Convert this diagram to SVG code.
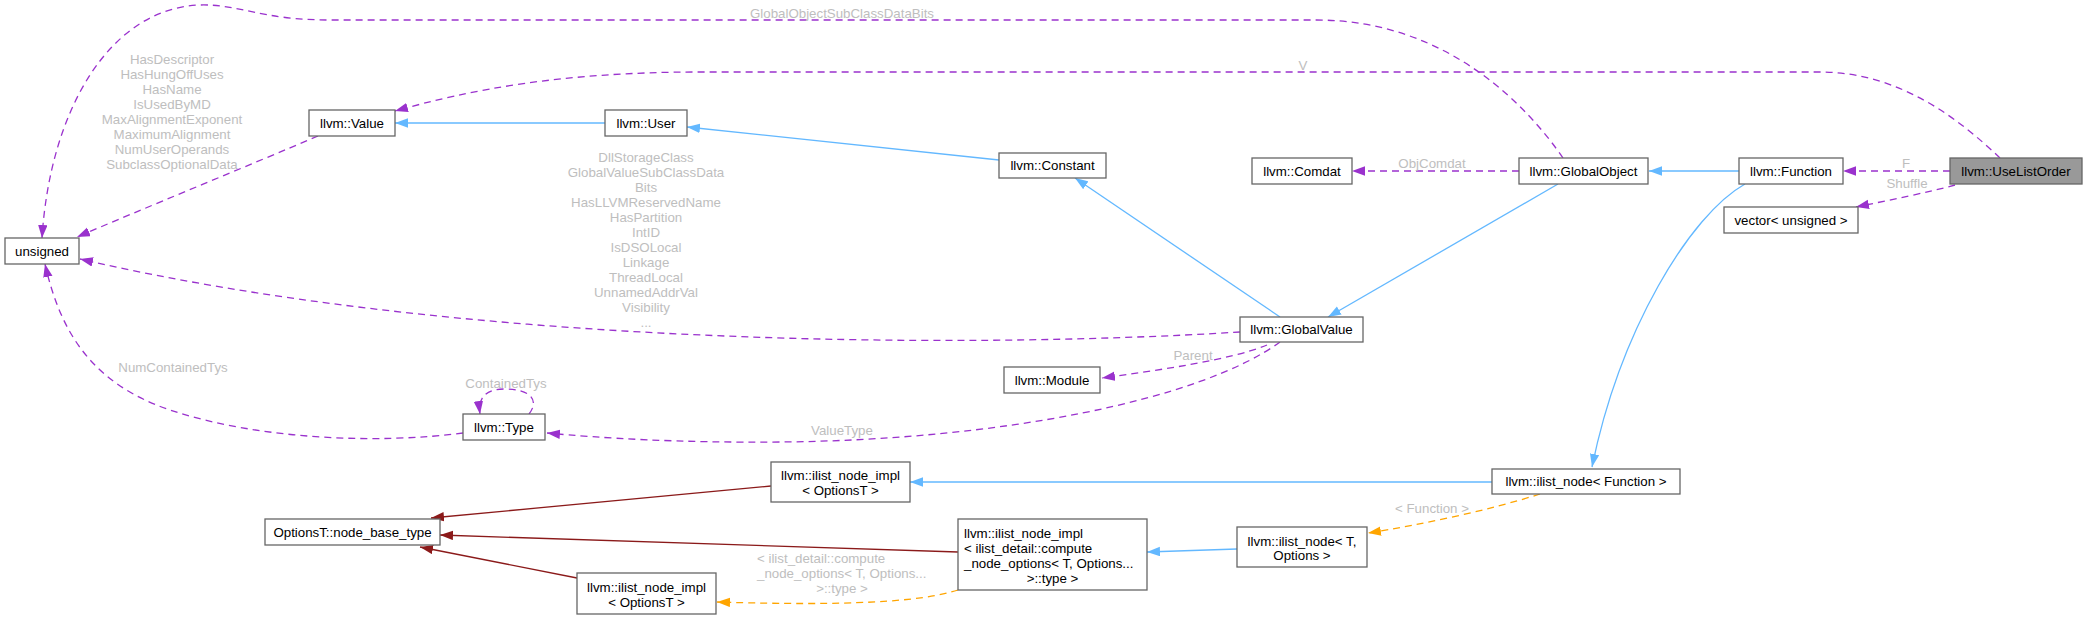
<svg xmlns="http://www.w3.org/2000/svg" width="2087" height="619" viewBox="0 0 2087 619">
<style>
text{font-family:"Liberation Sans",Arial,Helvetica,sans-serif;font-size:13.3px}
.n rect{fill:#fff;stroke:#666;stroke-width:1.3}
.n text{fill:#000;text-anchor:middle}
.n text.lt{text-anchor:start}
.l{fill:#bebebe;text-anchor:middle}
.l.lt{text-anchor:start}
.e{fill:none;stroke-width:1.3}
.p{stroke:#9a32cd;stroke-dasharray:7,5;marker-end:url(#mp)}
.b{stroke:#63b8ff;marker-end:url(#mb)}
.r{stroke:#8b1a1a;marker-end:url(#mr)}
.o{stroke:#ffa500;stroke-dasharray:7,5;marker-end:url(#mo)}
</style>
<defs>
<marker id="mp" markerUnits="userSpaceOnUse" markerWidth="14" markerHeight="10" refX="13" refY="4.7" orient="auto"><path d="M0,0L13,4.7L0,9.4z" fill="#9a32cd"/></marker>
<marker id="mb" markerUnits="userSpaceOnUse" markerWidth="14" markerHeight="10" refX="13" refY="4.7" orient="auto"><path d="M0,0L13,4.7L0,9.4z" fill="#63b8ff"/></marker>
<marker id="mr" markerUnits="userSpaceOnUse" markerWidth="14" markerHeight="10" refX="13" refY="4.7" orient="auto"><path d="M0,0L13,4.7L0,9.4z" fill="#8b1a1a"/></marker>
<marker id="mo" markerUnits="userSpaceOnUse" markerWidth="14" markerHeight="10" refX="13" refY="4.7" orient="auto"><path d="M0,0L13,4.7L0,9.4z" fill="#ffa500"/></marker>
</defs>
<rect width="2087" height="619" fill="#fff"/>
<g id="connectors">
<path class="e p" d="M1563,158 C1530,110 1450,20 1316,20 L330,20 C260,20 240,4 200,5 C110,8 50,110 42,238"/>
<text class="l" x="842" y="17.7">GlobalObjectSubClassDataBits</text>
<path class="e p" d="M2000,158 C1960,120 1900,72 1820,72 L700,72 C560,72 470,90 395,111"/>
<text class="l" x="1303" y="69.7">V</text>
<path class="e p" d="M318,136 C250,165 140,210 77,237"/>
<text class="l" x="172" y="63.7">HasDescriptor</text>
<text class="l" x="172" y="78.7">HasHungOffUses</text>
<text class="l" x="172" y="93.7">HasName</text>
<text class="l" x="172" y="108.7">IsUsedByMD</text>
<text class="l" x="172" y="123.7">MaxAlignmentExponent</text>
<text class="l" x="172" y="138.7">MaximumAlignment</text>
<text class="l" x="172" y="153.7">NumUserOperands</text>
<text class="l" x="172" y="168.7">SubclassOptionalData</text>
<path class="e p" d="M1240,332 C950,350 450,345 80,259"/>
<text class="l" x="646" y="161.7">DllStorageClass</text>
<text class="l" x="646" y="176.7">GlobalValueSubClassData</text>
<text class="l" x="646" y="191.7">Bits</text>
<text class="l" x="646" y="206.7">HasLLVMReservedName</text>
<text class="l" x="646" y="221.7">HasPartition</text>
<text class="l" x="646" y="236.7">IntID</text>
<text class="l" x="646" y="251.7">IsDSOLocal</text>
<text class="l" x="646" y="266.7">Linkage</text>
<text class="l" x="646" y="281.7">ThreadLocal</text>
<text class="l" x="646" y="296.7">UnnamedAddrVal</text>
<text class="l" x="646" y="311.7">Visibility</text>
<text class="l" x="646" y="326.7">...</text>
<path class="e p" d="M463,433 C380,444 260,440 170,410 C90,383 60,330 45,264"/>
<text class="l" x="173" y="371.7">NumContainedTys</text>
<path class="e p" d="M529,414 C540,400 530,389 505,389 C485,389 478,398 480,414"/>
<text class="l" x="506" y="387.7">ContainedTys</text>
<path class="e p" d="M1280,342 C1200,400 1000,440 780,442 C680,443 600,438 547,433"/>
<text class="l" x="842" y="434.7">ValueType</text>
<path class="e p" d="M1267,345 C1230,360 1160,370 1102,378"/>
<text class="l" x="1193" y="359.7">Parent</text>
<path class="e p" d="M1519,171 L1352,171"/>
<text class="l" x="1432" y="167.7">ObjComdat</text>
<path class="e p" d="M1950,171 L1843,171"/>
<text class="l" x="1906" y="167.7">F</text>
<path class="e p" d="M1955,185 C1930,192 1890,200 1856,207"/>
<text class="l" x="1907" y="187.7">Shuffle</text>
<path class="e b" d="M605,123 L395,123"/>
<path class="e b" d="M999,160 L687,127"/>
<path class="e b" d="M1280,317 L1075,178"/>
<path class="e b" d="M1558,184 L1328,317"/>
<path class="e b" d="M1739,171 L1649,171"/>
<path class="e b" d="M1745,184 C1690,215 1620,330 1592,467"/>
<path class="e b" d="M1492,482 L910,482"/>
<path class="e b" d="M1237,549 L1147,552"/>
<path class="e o" d="M1540,494 C1490,510 1420,525 1368,533"/>
<text class="l" x="1432" y="512.7">&lt; Function &gt;</text>
<path class="e o" d="M958,590 C920,602 850,606 717,602"/>
<text class="l lt" x="757" y="562.7">&lt; ilist_detail::compute</text>
<text class="l lt" x="757" y="577.7">_node_options&lt; T, Options...</text>
<text class="l" x="842" y="592.7">&gt;::type &gt;</text>
<path class="e r" d="M771,486 L431,518"/>
<path class="e r" d="M958,552 L440,535"/>
<path class="e r" d="M577,578 L420,547"/>
</g>
<g id="node-unsigned" class="n"><rect x="5" y="238" width="74" height="26"/><text x="42" y="255.7">unsigned</text></g>
<g id="node-value" class="n"><rect x="309" y="110" width="86" height="26"/><text x="352" y="127.7">llvm::Value</text></g>
<g id="node-user" class="n"><rect x="605" y="110" width="82" height="26"/><text x="646" y="127.7">llvm::User</text></g>
<g id="node-constant" class="n"><rect x="999" y="153" width="107" height="25"/><text x="1052.5" y="170.2">llvm::Constant</text></g>
<g id="node-comdat" class="n"><rect x="1252" y="158" width="100" height="26"/><text x="1302" y="175.7">llvm::Comdat</text></g>
<g id="node-globalobject" class="n"><rect x="1519" y="158" width="129" height="26"/><text x="1583.5" y="175.7">llvm::GlobalObject</text></g>
<g id="node-function" class="n"><rect x="1739" y="158" width="104" height="26"/><text x="1791" y="175.7">llvm::Function</text></g>
<g id="node-uselistorder" class="n"><rect x="1950" y="158" width="132" height="26" style="fill:#999"/><text x="2016" y="175.7">llvm::UseListOrder</text></g>
<g id="node-vector" class="n"><rect x="1724" y="207" width="134" height="26"/><text x="1791" y="224.7">vector&lt; unsigned &gt;</text></g>
<g id="node-globalvalue" class="n"><rect x="1240" y="317" width="123" height="25"/><text x="1301.5" y="334.2">llvm::GlobalValue</text></g>
<g id="node-module" class="n"><rect x="1004" y="367" width="96" height="26"/><text x="1052" y="384.7">llvm::Module</text></g>
<g id="node-type" class="n"><rect x="463" y="414" width="82" height="26"/><text x="504" y="431.7">llvm::Type</text></g>
<g id="node-impl-top" class="n"><rect x="771" y="462" width="139" height="40"/><text x="840.5" y="479.7">llvm::ilist_node_impl</text><text x="840.5" y="494.7">&lt; OptionsT &gt;</text></g>
<g id="node-ilist-function" class="n"><rect x="1492" y="469" width="188" height="25"/><text x="1586" y="486.2">llvm::ilist_node&lt; Function &gt;</text></g>
<g id="node-base-type" class="n"><rect x="265" y="519" width="175" height="26"/><text x="352.5" y="536.7">OptionsT::node_base_type</text></g>
<g id="node-impl-compute" class="n"><rect x="958" y="519" width="189" height="71"/><text class="lt" x="964" y="537.7">llvm::ilist_node_impl</text><text class="lt" x="964" y="552.7">&lt; ilist_detail::compute</text><text class="lt" x="964" y="567.7">_node_options&lt; T, Options...</text><text x="1052.5" y="582.7">&gt;::type &gt;</text></g>
<g id="node-ilist-t-options" class="n"><rect x="1237" y="527" width="130" height="40"/><text x="1302" y="545.5">llvm::ilist_node&lt; T,</text><text x="1302" y="560">Options &gt;</text></g>
<g id="node-impl-bottom" class="n"><rect x="577" y="573" width="139" height="41"/><text x="646.5" y="591.7">llvm::ilist_node_impl</text><text x="646.5" y="606.7">&lt; OptionsT &gt;</text></g>
</svg>
